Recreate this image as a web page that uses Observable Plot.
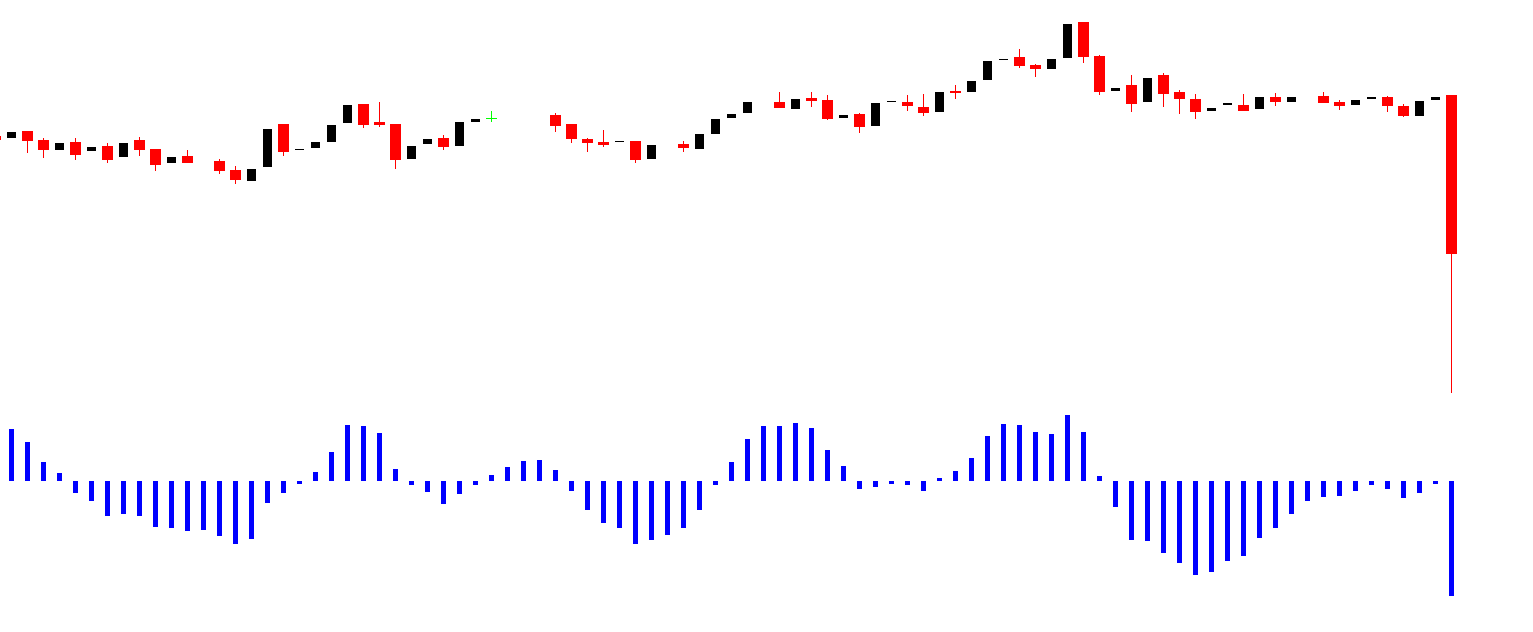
<!DOCTYPE html>
<html>
<head>
<meta charset="utf-8">
<script src="https://cdn.jsdelivr.net/npm/d3@7"></script>
<script src="https://cdn.jsdelivr.net/npm/@observablehq/plot@0.6"></script>
<style>
  html, body { margin: 0; padding: 0; background: #fff; overflow: hidden; }
  #chart svg { display: block; }
</style>
</head>
<body>
<div id="chart"></div>
<script>
// Candle bar indices (gaps = missing candles)
const candleIdx = [-1,0,1,2,3,4,5,6,7,8,9,10,11,13,14,15,16,17,18,19,20,21,22,23,24,25,26,27,28,29,30,
  34,35,36,37,38,39,40,42,43,44,45,46,48,49,50,51,52,53,54,55,56,57,58,59,60,61,62,63,64,65,66,67,68,69,70,
  71,72,73,74,75,76,77,78,79,80,82,83,84,85,86,87,88,89,90];
const opens  = [364,362,369,360,350,358,349,354,343,360,351,337,344,339,330,319,333,376,350,352,358,377,396,378,376,341,356,362,354,378,382,
  385,376,361,358,358,359,341,356,351,366,382,387,398,391,402,400,382,386,374,398,398,393,388,409,408,420,440,443,435,431,442,478,444,409,415,
  398,425,408,401,389,395,395,391,403,398,404,398,395,401,403,394,384,400,405];
const highs  = [364,368,369,362,357,362,353,357,357,363,351,343,350,341,334,331,371,376,351,358,375,395,396,398,376,354,361,365,378,381,389,
  387,376,362,370,359,359,355,359,366,381,386,398,408,401,408,405,385,387,397,399,405,406,408,415,419,439,441,451,436,441,476,478,445,412,425,
  422,427,410,406,392,397,406,403,407,403,408,400,400,403,404,396,399,403,405];
const lows   = [360,362,347,342,350,340,349,337,343,344,329,337,337,326,316,319,333,344,350,352,358,377,372,373,331,341,356,350,354,378,378,
  368,357,348,353,358,337,341,348,351,366,382,387,392,391,393,380,382,367,374,398,389,384,388,401,408,420,440,432,423,431,442,437,405,409,388,
  398,393,386,381,389,395,389,391,394,398,397,390,395,401,388,383,384,400,107];
const closes = [360,368,359,350,357,345,353,340,357,350,335,343,337,329,320,331,371,348,351,358,375,395,375,375,340,354,361,353,378,381,382,
  374,361,357,355,359,340,355,352,366,381,386,398,392,401,399,381,385,373,397,399,394,387,408,407,419,439,441,434,431,441,476,443,408,412,396,
  422,406,401,388,392,397,389,403,398,403,397,394,400,403,394,384,399,403,246];

// Oscillator histogram, bars 0..90
const histValues = [52,39,19,8,-12,-20,-35,-33,-35,-46,-47,-50,-49,-55,-63,-58,-22,-12,-3,9,29,56,55,48,
  12,-4,-11,-23,-13,-4,6,14,20,21,11,-10,-29,-42,-47,-63,-59,-54,-47,-29,-4,19,42,
  55,55,58,53,31,15,-8,-6,-3,-4,-10,3,10,23,45,57,56,49,47,66,49,5,-26,-59,
  -60,-72,-82,-94,-91,-80,-75,-57,-47,-33,-20,-16,-15,-10,-4,-8,-17,-12,-3,-115];

(function () {
  const W = 1533;
  const xDomain = [-11 / 16, (W - 11) / 16];

  const candles = candleIdx.map((i, k) => ({
    i, open: opens[k], high: highs[k], low: lows[k], close: closes[k]
  }));
  const kind = d => d.close > d.open ? "up" : d.close < d.open ? "down" : "flat";
  const colorOf = d => ({up: "#000000", down: "#ff0000", flat: "#00ff00"})[kind(d)];
  const bodyEnd = d => d.close === d.open ? d.close - 1 : d.close;

  const pricePlot = Plot.plot({
    width: W, height: 400,
    margin: 0,
    x: {type: "linear", domain: xDomain, axis: null},
    y: {type: "linear", domain: [100, 500], axis: null},
    marks: [
      Plot.ruleX(candles.filter(d => kind(d) !== "up"), {
        x: "i", y1: "low", y2: "high", stroke: colorOf, strokeWidth: 1
      }),
      Plot.ruleX(candles.filter(d => kind(d) === "up"), {
        x: "i", y1: "open", y2: "close", stroke: colorOf, strokeWidth: 9, strokeLinecap: "butt"
      }),
      Plot.ruleX(candles.filter(d => kind(d) !== "up"), {
        x: "i", y1: "open", y2: bodyEnd, stroke: colorOf, strokeWidth: 11, strokeLinecap: "butt"
      })
    ]
  });

  const hist = histValues.map((v, i) => ({i, v}));
  const histPlot = Plot.plot({
    width: W, height: 232,
    margin: 0,
    x: {type: "linear", domain: xDomain, axis: null},
    y: {type: "linear", domain: [-151, 81], axis: null},
    marks: [
      Plot.ruleX(hist, {x: "i", y1: 0, y2: "v", stroke: "#0000ff", strokeWidth: 5, strokeLinecap: "butt"})
    ]
  });

  const el = document.getElementById("chart");
  el.appendChild(pricePlot);
  el.appendChild(histPlot);
})();
</script>
</body>
</html>
